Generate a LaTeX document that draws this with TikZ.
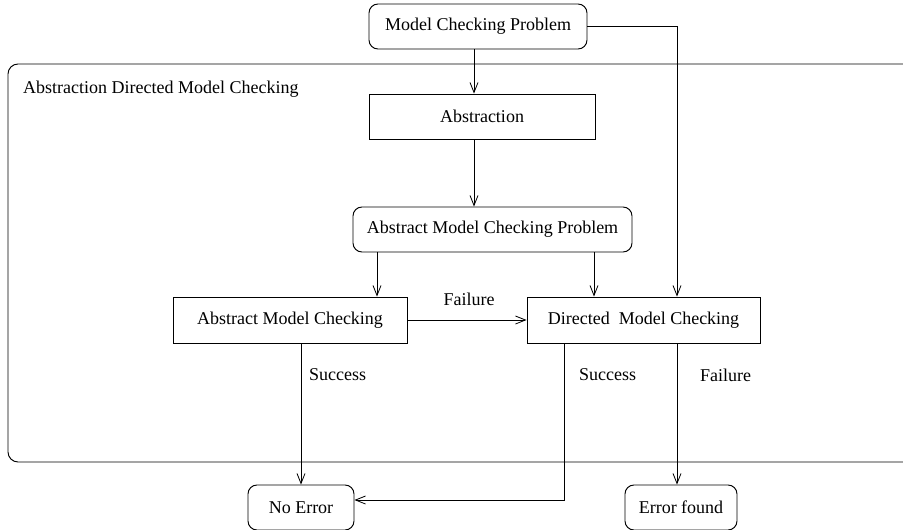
\documentclass[tikz,border=0pt]{standalone}
\usepackage{fontspec}
\setmainfont{Liberation Serif}
\usetikzlibrary{arrows.meta}
\begin{document}
\begin{tikzpicture}[x=1pt,y=-1pt,
  every node/.style={font=\fontsize{18}{21.6}\selectfont},
  box/.style={draw,line width=0.95pt,minimum height=45pt,inner sep=0pt},
  rbox/.style={box,rounded corners=9pt},
  lbl/.style={inner sep=0pt},
  arr/.style={line width=0.8pt,-{Straight Barb[length=10pt,width=8pt,line width=0.8pt]}},
  ln/.style={line width=0.8pt}]
\useasboundingbox (0,0) rectangle (903,530);
% container
\draw[line width=0.95pt,rounded corners=10pt] (8,64) rectangle (915,462);
\node[lbl,anchor=west] (title) at (23,89) {Abstraction Directed Model Checking};
% nodes
\node[rbox,minimum width=218pt] (mcp) at (478,26.5) {Model Checking Problem};
\node[box,minimum width=226pt] (abs) at (482,116.5) {Abstraction};
\node[rbox,minimum width=279pt] (amcp) at (492.5,229.5) {Abstract Model Checking Problem};
\node[box,minimum width=234pt,minimum height=46pt] (amc) at (290,320) {Abstract Model Checking};
\node[box,minimum width=233pt,minimum height=46pt] (dmc) at (643.5,320) {Directed\ \ Model Checking};
\node[rbox,minimum width=106pt] (noerr) at (301,507.5) {No Error};
\node[rbox,minimum width=112pt] (errf) at (681,507.5) {Error found};
% column coordinates
\coordinate (c474) at (474,0);
\coordinate (c377) at (377,0);
\coordinate (c594) at (594,0);
\coordinate (c677) at (677,0);
\coordinate (c564) at (564,0);
\coordinate (c301) at (301,0);
\coordinate (corner1) at (677,26.7);
\coordinate (corner2) at (564,500);
\coordinate (neE) at (354,500);
% connectors
\draw[arr] (mcp.south -| c474) -- (abs.north -| c474);
\draw[arr] (abs.south -| c474) -- (amcp.north -| c474);
\draw[arr] (amcp.south -| c377) -- (amc.north -| c377);
\draw[arr] (amcp.south -| c594) -- (dmc.north -| c594);
\draw[arr] (mcp.east |- corner1) -- (corner1) -- (dmc.north -| c677);
\draw[arr] (amc.east) -- (dmc.west);
\draw[arr] (amc.south -| c301) -- (noerr.north -| c301);
\draw[arr] (dmc.south -| c564) -- (corner2) -- (noerr.east |- neE);
\draw[arr] (dmc.south -| c677) -- (errf.north -| c677);
% labels
\node[lbl] (lfail1) at (469,299) {Failure};
\node[lbl,anchor=west] (lsucc1) at (309,375) {Success};
\node[lbl,anchor=west] (lsucc2) at (579,375) {Success};
\node[lbl,anchor=west] (lfail2) at (700,375) {Failure};
\end{tikzpicture}
\end{document}
